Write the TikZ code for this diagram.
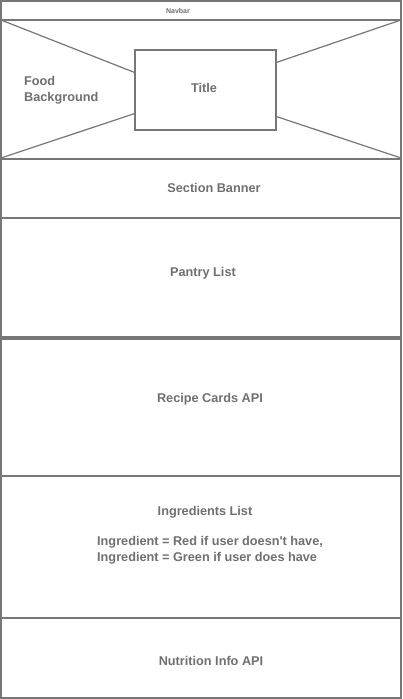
\documentclass[tikz,border=0pt]{standalone}
\usepackage{fontspec}
\setmainfont{Liberation Sans}
\begin{document}
\begin{tikzpicture}[x=1pt,y=-1pt,
  frame/.style={draw=linegray,line width=1.4pt},
  lbl/.style={text=txtgray,font=\bfseries\fontsize{12.7}{14}\selectfont,inner sep=0pt},
  diag/.style={draw=linegray,line width=1.2pt}]
\definecolor{linegray}{HTML}{777777}
\definecolor{txtgray}{HTML}{707070}
\useasboundingbox (0,0) rectangle (402,699);
\fill[white] (0,0) rectangle (402,699);
% sections
\draw[frame] (1,1) rectangle (401,20);
\draw[frame] (1,20) rectangle (401,159);
\draw[frame] (1,159) rectangle (401,218);
\draw[frame] (1,218) rectangle (401,337);
\draw[frame] (1,339) rectangle (401,476);
\draw[frame] (1,476) rectangle (401,618);
\draw[frame] (1,618) rectangle (401,698);
% hero
\coordinate (tl) at (1,20);
\coordinate (tr) at (401,20);
\coordinate (bl) at (1,158);
\coordinate (br) at (401,158);
\node[draw=linegray,line width=1.2pt,minimum width=141pt,minimum height=80pt,inner sep=0pt] (title) at (205.5,90) {};
\draw[diag] (tl) -- ([yshift=-23pt]title.north west);
\draw[diag] (tr) -- ([yshift=-13pt]title.north east);
\draw[diag] (bl) -- ([yshift=17pt]title.south west);
\draw[diag] (br) -- ([yshift=14pt]title.south east);
\node[lbl] (titletext) at (204,88) {Title};
\node[lbl,align=left,anchor=west] (food) at (24,90) {Food\\[2pt]Background};
% labels
\node[lbl,font=\bfseries\fontsize{7}{8}\selectfont] (nav) at (178,11) {Navbar};
\node[lbl] (banner) at (214,188) {Section Banner};
\node[lbl] (pantry) at (203,273) {Pantry List};
\node[lbl] (recipe) at (210,399) {Recipe Cards API};
\node[lbl] (ingr) at (205,512) {Ingredients List};
\node[lbl,align=left,anchor=west] (rule) at (97,550) {Ingredient = Red if user doesn\textquotesingle t have,\\[2pt]Ingredient = Green if user does have};
\node[lbl] (nutr) at (211,661) {Nutrition Info API};
\end{tikzpicture}
\end{document}
